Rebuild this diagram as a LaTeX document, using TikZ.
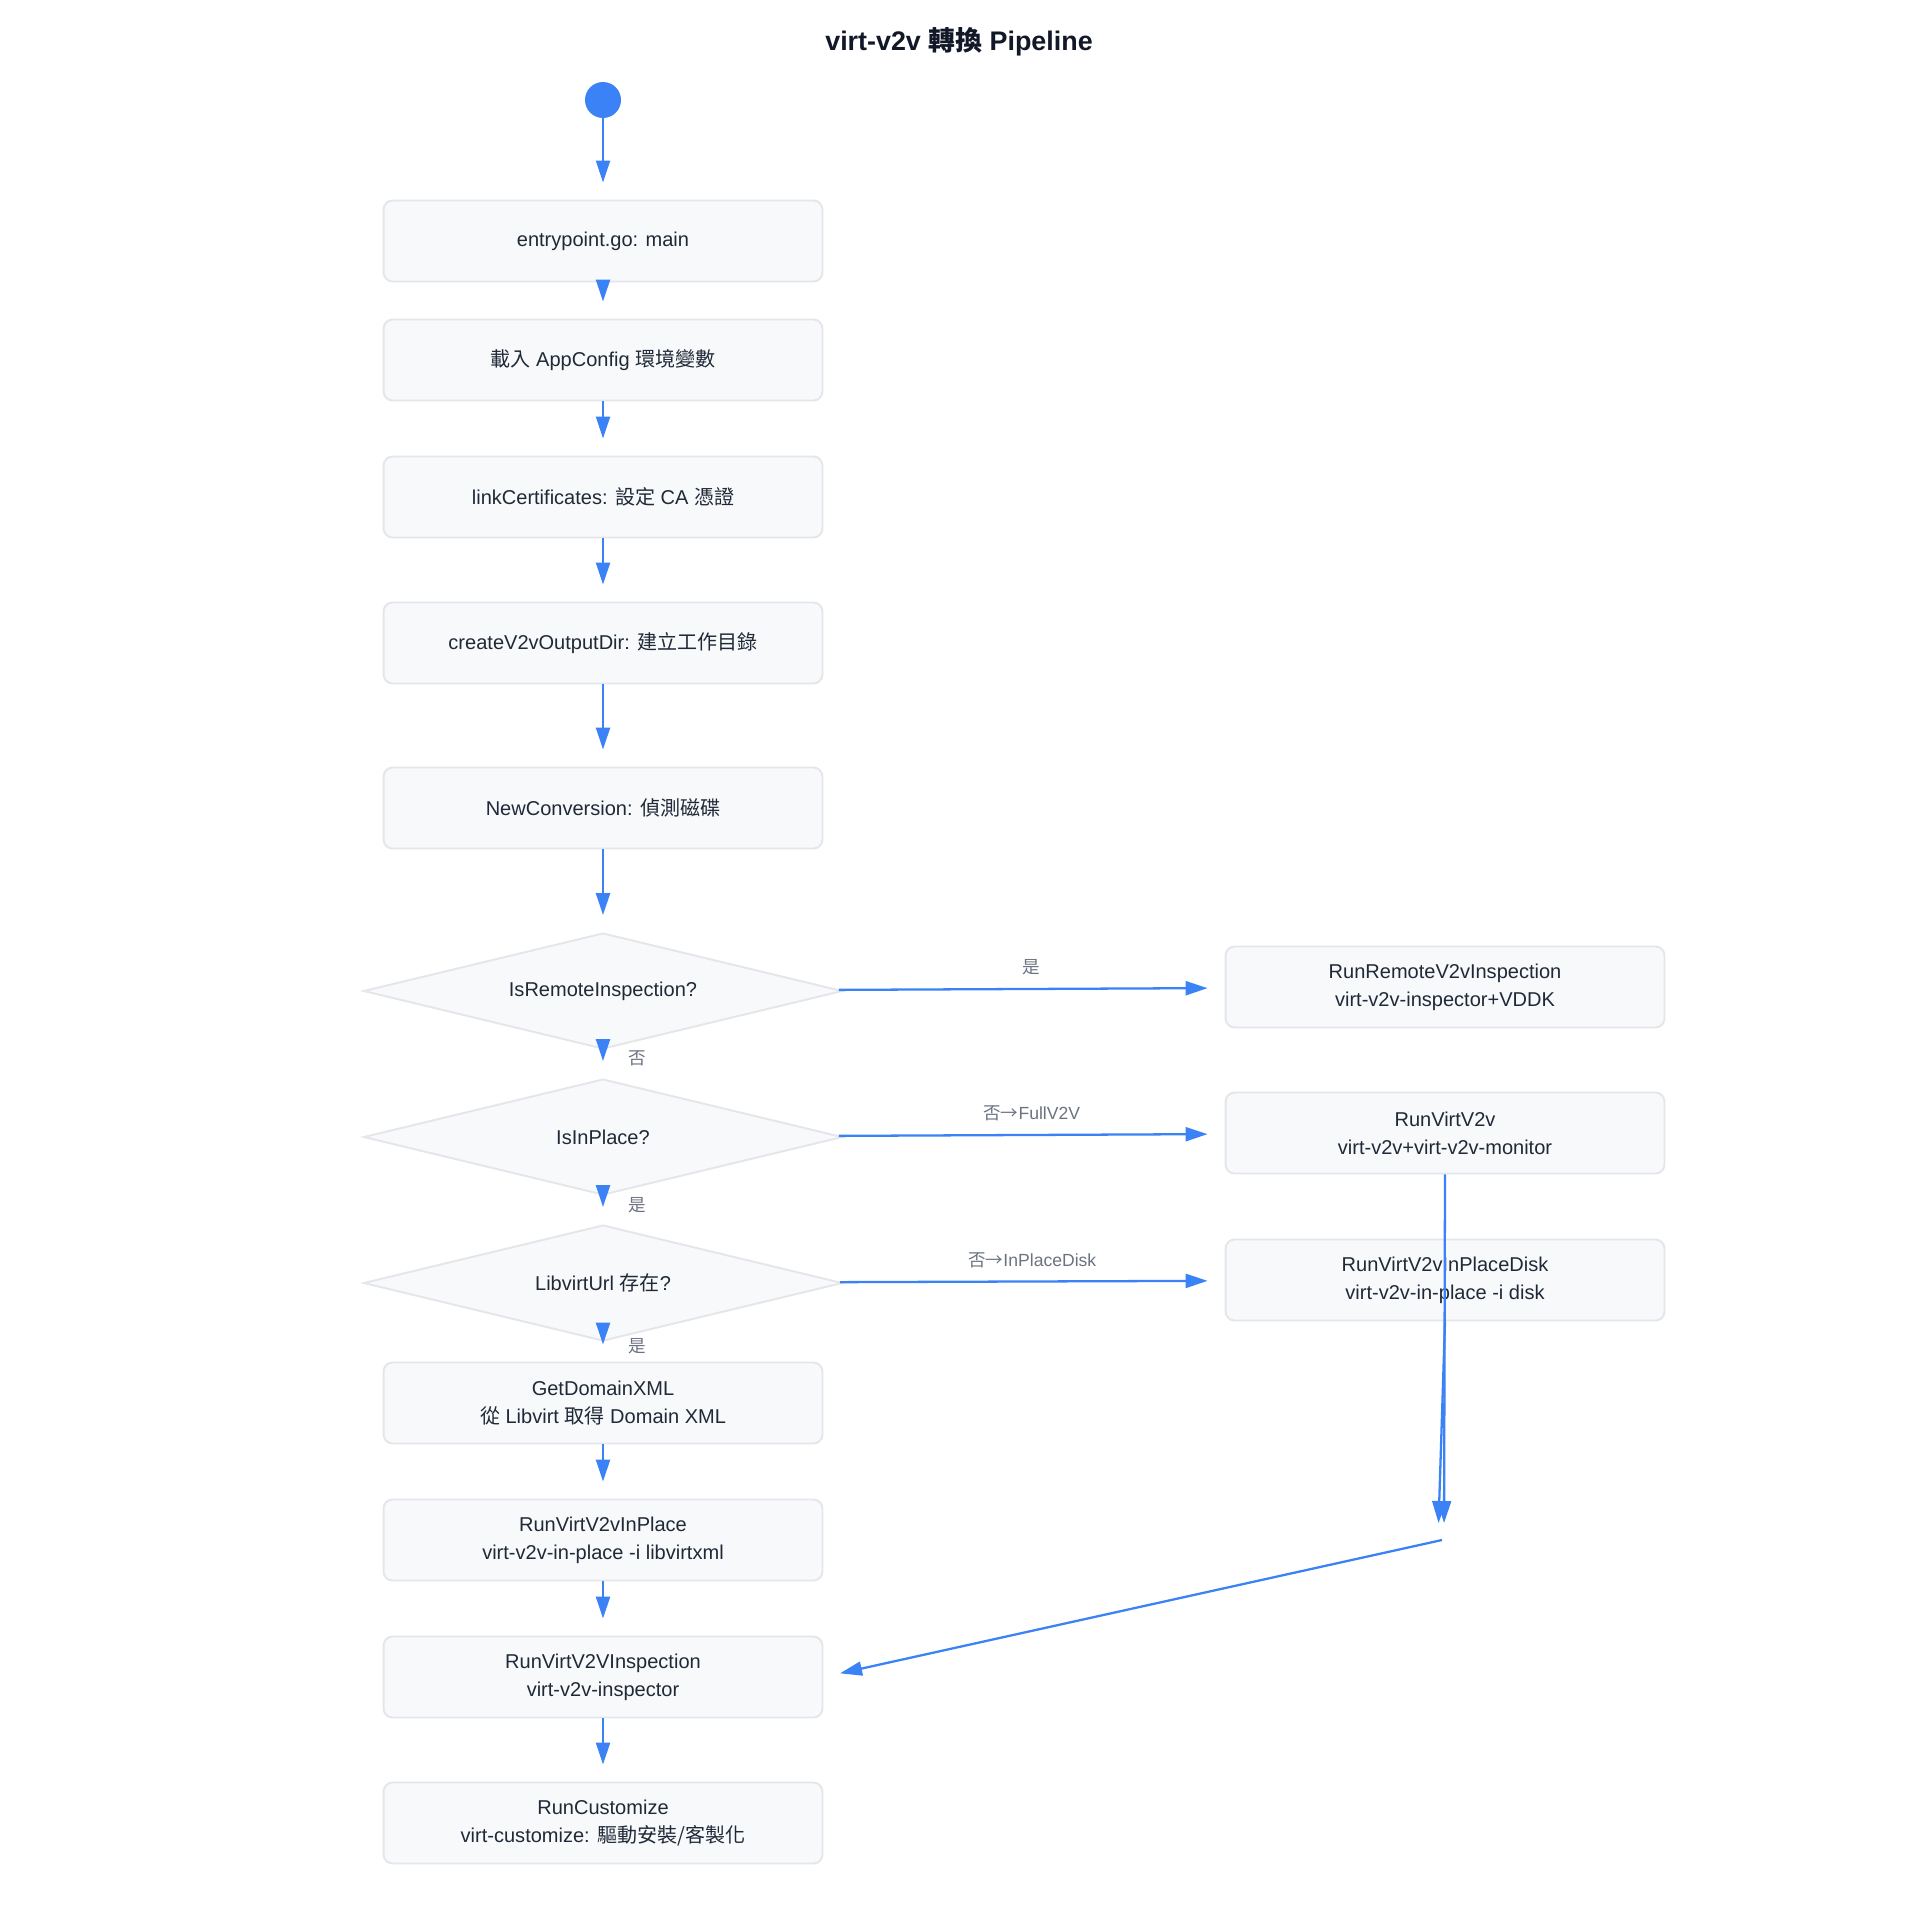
\documentclass[tikz,border=0pt]{standalone}
\usepackage{fontspec}
\setmainfont{Liberation Sans}
\newfontfamily\cjk{Noto Sans CJK TC}
\usetikzlibrary{arrows.meta,shapes.geometric}
\definecolor{flow}{HTML}{3B82F6}
\definecolor{boxfill}{HTML}{F8F9FB}
\definecolor{boxline}{HTML}{E4E6EA}
\definecolor{ink}{HTML}{1F2937}
\definecolor{muted}{HTML}{6B7280}
\definecolor{heading}{HTML}{111827}

\begin{document}
\begin{tikzpicture}[x=0.02cm,y=-0.02cm,
  procbox/.style={draw=boxline,fill=boxfill,line width=1.1pt,rounded corners=0.18cm,
    minimum width=8.78cm,minimum height=1.62cm,align=center,text=ink,
    font=\fontsize{11.4}{16}\selectfont},
  decision/.style={diamond,aspect=4.1,draw=boxline,fill=boxfill,line width=1.1pt,
    minimum width=9.58cm,minimum height=2.32cm,inner sep=0pt,text=ink,
    font=\fontsize{11.4}{16}\selectfont},
  flowarrow/.style={draw=flow,line width=1.3pt,-{Triangle[length=0.44cm,width=0.28cm]},
    shorten >=0.34cm},
  elabel/.style={text=muted,font=\fontsize{10}{12}\selectfont,inner sep=1pt}]
  \useasboundingbox (0,0) rectangle (1920,1920);

  % Title
  \node[font=\bfseries\fontsize{15.3}{18}\selectfont,text=heading] (title) at (959,42)
    {virt-v2v {\cjk 轉換} Pipeline};

  % Main column
  \node[circle,fill=flow,minimum size=0.72cm,inner sep=0pt] (start) at (603,100) {};
  \node[procbox] (entry) at (603,241) {entrypoint.go: main};
  \node[procbox] (config) at (603,360) {{\cjk 載入} AppConfig {\cjk 環境變數}};
  \node[procbox] (certs) at (603,497) {linkCertificates: {\cjk 設定} CA {\cjk 憑證}};
  \node[procbox] (outdir) at (603,643) {createV2vOutputDir: {\cjk 建立工作目錄}};
  \node[procbox] (newconv) at (603,808) {NewConversion: {\cjk 偵測磁碟}};

  % Decisions
  \node[decision] (isremote) at (603,991) {IsRemoteInspection?};
  \node[decision] (isinplace) at (603,1137) {IsInPlace?};
  \node[decision] (haslibvirt) at (603,1283) {LibvirtUrl {\cjk 存在}?};

  % In-place path
  \node[procbox] (domxml) at (603,1403) {GetDomainXML\\{\cjk 從} Libvirt {\cjk 取得} Domain XML};
  \node[procbox] (inplace) at (603,1540) {RunVirtV2vInPlace\\virt-v2v-in-place -i libvirtxml};
  \node[procbox] (inspect) at (603,1677) {RunVirtV2VInspection\\virt-v2v-inspector};
  \node[procbox] (custom) at (603,1823) {RunCustomize\\virt-customize: {\cjk 驅動安裝/客製化}};

  % Right column
  \node[procbox] (remote) at (1445,987) {RunRemoteV2vInspection\\virt-v2v-inspector+VDDK};
  \node[procbox] (fullv2v) at (1445,1133) {RunVirtV2v\\virt-v2v+virt-v2v-monitor};
  \node[procbox] (inplacedisk) at (1445,1280) {RunVirtV2vInPlaceDisk\\virt-v2v-in-place -i disk};
  \coordinate (merge) at (1442,1540);

  % Connectors
  \draw[flowarrow] (start) -- (entry);
  \draw[flowarrow] (entry) -- (config);
  \draw[flowarrow] (config) -- (certs);
  \draw[flowarrow] (certs) -- (outdir);
  \draw[flowarrow] (outdir) -- (newconv);
  \draw[flowarrow] (newconv) -- (isremote);
  \draw[flowarrow] (isremote) -- node[elabel,above=0.22cm] {\cjk 是} (remote);
  \draw[flowarrow] (isremote) -- node[elabel,pos=0.3,right=0.46cm] {\cjk 否} (isinplace);
  \draw[flowarrow] (isinplace) -- node[elabel,above=0.22cm] {{\cjk 否→}FullV2V} (fullv2v);
  \draw[flowarrow] (isinplace) -- node[elabel,pos=0.32,right=0.46cm] {\cjk 是} (haslibvirt);
  \draw[flowarrow] (haslibvirt) -- node[elabel,above=0.22cm] {{\cjk 否→}InPlaceDisk} (inplacedisk);
  \draw[flowarrow] (haslibvirt) -- node[elabel,pos=0.2,right=0.46cm] {\cjk 是} (domxml);
  \draw[flowarrow] (domxml) -- (inplace);
  \draw[flowarrow] (inplace) -- (inspect);
  \draw[flowarrow] (inspect) -- (custom);
  \draw[flowarrow] (fullv2v.south) -- ([xshift=0.04cm]merge);
  \draw[flowarrow] (inplacedisk.south) -- ([xshift=-0.08cm]merge);
  \draw[flowarrow] (merge) -- (inspect.east);
\end{tikzpicture}
\end{document}
